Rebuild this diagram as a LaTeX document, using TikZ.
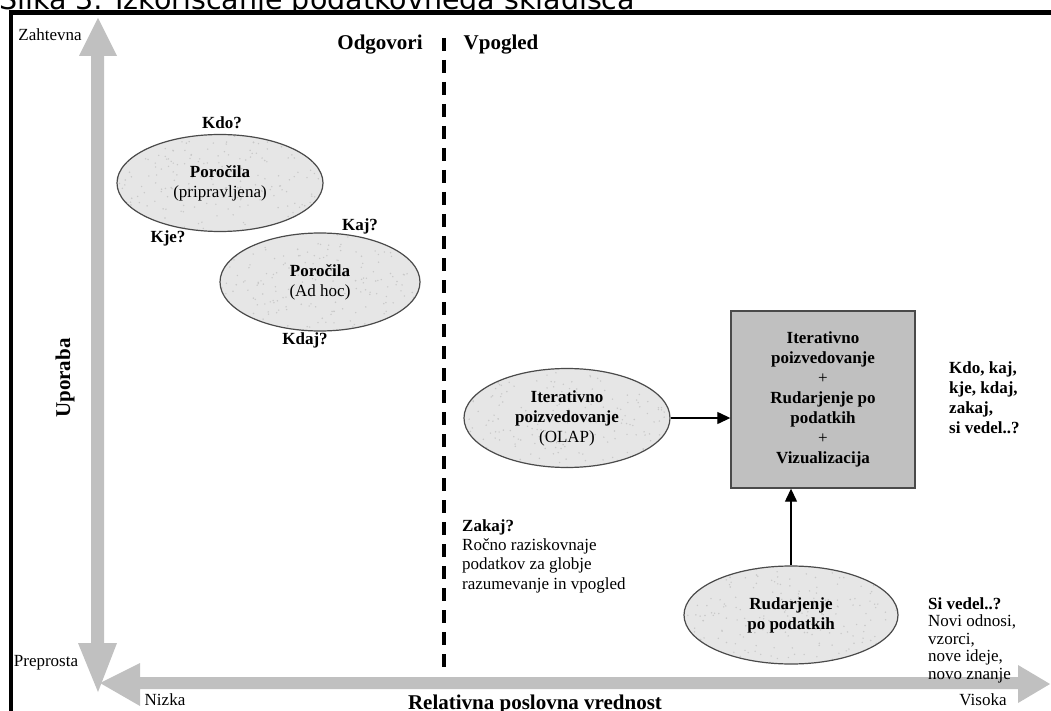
\documentclass[tikz,border=0pt]{standalone}
\usepackage{fontspec}
\setmainfont{Liberation Serif}
\newfontfamily\titlefont{DejaVu Sans}
\usepackage{tikz}
\usetikzlibrary{shapes.geometric, arrows.meta, positioning}

\definecolor{axisgray}{HTML}{C0C0C0}
\definecolor{boxgray}{HTML}{C0C0C0}
\definecolor{bubblefill}{HTML}{E6E6E6}
\definecolor{speck}{HTML}{C8C8C8}
\definecolor{rimgray}{HTML}{4A4A4A}

\begin{document}
\begin{tikzpicture}[x=1pt, y=-1pt,
		every node/.style={inner sep=0pt, font=\fontsize{17}{20}\selectfont},
		bubble/.style={ellipse, draw=rimgray, line width=1.2pt, fill=bubblefill, align=center,
			path picture={\foreach \k in {1,...,240}{\fill [speck] ([shift={(rnd*220,rnd*105)}]path picture bounding box.north west) circle (0.8pt);}}},
		combo/.style={rectangle, draw=rimgray, line width=1.4pt, fill=boxgray, align=center, minimum width=184, minimum height=177},
		question/.style={font=\bfseries\fontsize{17}{20}\selectfont},
		heading/.style={font=\bfseries\fontsize{21}{24}\selectfont},
		conn/.style={line width=1.3pt, -{Triangle[length=13pt, width=12pt]}}]
				\pgfmathsetseed{11}
				\useasboundingbox (0,0) rectangle (1051,711);
				\clip (0,0) rectangle (1051,711);
				\fill [white] (0,0) rectangle (1051,711);
				
				\node [anchor=base west, font=\titlefont\fontsize{28.5}{30}\selectfont] (title) at (-1,9.5) {Slika 3: Izkoriščanje podatkovnega skladišča};
				\draw [line width=4.5pt, line join=miter] (11,711) -- (11,12.5) -- (1051,12.5);
				
				% axes
				\fill [axisgray] (91,56) -- (79,56) -- (98,18) -- (117,56) -- (104,56) -- (104,643) -- (117,643) -- (98,692) -- (78,643) -- (91,643) -- cycle;
				\fill [axisgray] (140,677) -- (140,663) -- (100,683) -- (140,706) -- (140,689) -- (1018,689) -- (1018,703) -- (1050,684) -- (1018,665) -- (1018,677) -- cycle;
				\node (zahtevna) at (50,35) {Zahtevna};
				\node (preprosta) at (46,663) {Preprosta};
				\node (nizka) at (165,700) {Nizka};
				\node (visoka) at (983,700) {Visoka};
				\node [heading, rotate=90] (uporaba) at (65,378) {Uporaba};
				\node [heading, anchor=base] (vrednost) at (535,709) {Relativna poslovna vrednost};
				
				\draw [line width=3.5pt, dash pattern=on 13pt off 9pt] (444,38) -- (444,667);
				\node [heading] (odgovori) at (380,45) {Odgovori};
				\node [heading] (vpogled) at (501,45) {Vpogled};
				
				\node [bubble, minimum width=206, minimum height=97] (rep1) at (220,183) {\textbf{Poročila}\\(pripravljena)};
				\node [bubble, minimum width=200, minimum height=98] (rep2) at (320,282) {\textbf{Poročila}\\(Ad hoc)};
				\node [question] (kdo) at (222,123) {Kdo?};
				\node [question] (kje) at (168,238) {Kje?};
				\node [question] (kaj) at (360,226) {Kaj?};
				\node [question] (kdaj) at (305,340) {Kdaj?};
				
				\node [bubble, minimum width=206, minimum height=99] (olap) at (567,418) {\textbf{Iterativno}\\\textbf{poizvedovanje}\\(OLAP)};
				\node [combo] (comb) at (823,399.5) {\textbf{Iterativno}\\\textbf{poizvedovanje}\\+\\\textbf{Rudarjenje po}\\\textbf{podatkih}\\+\\\textbf{Vizualizacija}};
				\node [bubble, minimum width=214, minimum height=98] (mine) at (791,615) {\textbf{Rudarjenje}\\\textbf{po podatkih}};
				
				\draw [conn] (olap.east) -- (olap.east -| comb.west);
				\draw [conn] (mine.north) -- (mine.north |- comb.south);
				
				\node [question, anchor=west, align=left] (who) at (949,398) {Kdo, kaj,\\kje, kdaj,\\zakaj,\\si vedel..?};
				\node [anchor=west, align=left, font=\fontsize{17}{17.5}\selectfont] (sivedel) at (928,640) {\textbf{Si vedel..?}\\Novi odnosi,\\vzorci,\\nove ideje,\\novo znanje};
				\node [anchor=west, align=left, font=\fontsize{17}{19.3}\selectfont] (zakaj) at (462,556) {\textbf{Zakaj?}\\Ročno raziskovnaje\\podatkov za globje\\razumevanje in vpogled};
\end{tikzpicture}
\end{document}
